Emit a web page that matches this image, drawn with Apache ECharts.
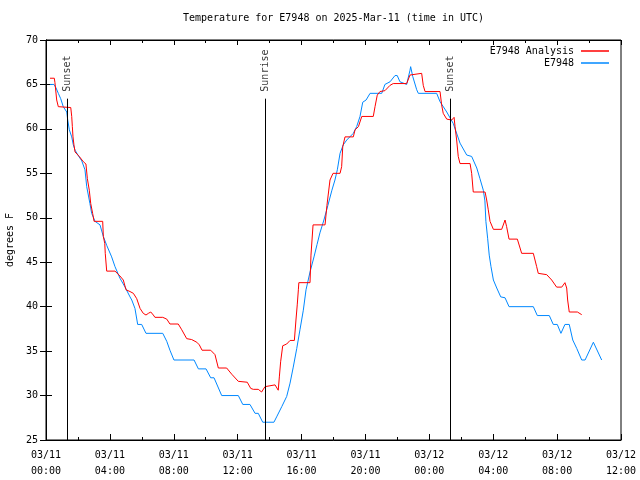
<!DOCTYPE html>
<html>
<head>
<meta charset="utf-8">
<script src="https://cdn.jsdelivr.net/npm/echarts@6/dist/echarts.min.js"></script>
<style>html,body{margin:0;padding:0;background:#fff}#c{width:640px;height:480px}</style>
</head>
<body>
<div id="c"></div>
<script>
// hours since 2025-03-11 00:00 UTC
var analysisHours = [0.25,0.52,0.56,0.67,0.77,1.55,1.61,1.65,1.69,1.75,1.82,2.08,2.34,2.50,2.59,2.71,2.80,2.92,3.01,3.55,3.59,3.68,3.71,3.80,4.32,4.63,4.84,5.01,5.26,5.47,5.68,5.89,6.09,6.26,6.41,6.56,6.72,6.82,7.31,7.56,7.76,8.28,8.50,8.81,9.12,9.44,9.60,9.77,10.31,10.58,10.79,11.31,11.63,12.04,12.60,12.82,12.98,13.29,13.50,13.61,13.71,13.77,14.34,14.54,14.61,14.69,14.82,15.07,15.28,15.55,15.65,15.73,15.80,15.83,16.53,16.59,16.72,17.47,17.59,17.78,17.97,18.41,18.51,18.58,18.72,19.03,19.24,19.35,19.56,19.77,20.49,20.60,20.74,20.91,21.22,21.54,21.74,22.58,22.79,22.90,23.52,23.62,23.73,24.67,24.77,24.87,25.09,25.40,25.55,25.61,25.71,25.81,25.92,26.55,26.65,26.75,27.49,27.59,27.69,27.80,28.01,28.53,28.74,28.84,28.99,29.51,29.68,29.78,30.51,30.72,30.82,31.35,31.66,31.97,32.29,32.49,32.60,32.66,32.70,32.76,33.27,33.39,33.54];
var analysisTemps = [65.7,65.7,65.2,63.25,62.5,62.4,61.4,60.25,59.1,58.2,57.4,56.9,56.3,56.05,54.4,53.1,51.6,50.5,49.6,49.6,47.9,47.1,46.0,44.0,44.0,43.45,43.0,41.9,41.7,41.5,40.9,39.8,39.25,39.06,39.25,39.4,39.06,38.8,38.8,38.6,38.05,38.05,37.4,36.4,36.3,36.0,35.7,35.1,35.1,34.6,33.1,33.1,32.4,31.6,31.5,30.8,30.7,30.7,30.4,30.4,31.0,31.2,31.2,30.6,32.1,33.8,35.6,35.8,36.2,36.2,38.5,40.2,41.9,42.7,42.7,45.8,49.2,49.2,51.4,54.25,55.0,55.0,55.75,58.0,59.1,59.1,59.1,59.9,60.25,61.4,61.4,62.5,63.8,64.2,64.3,64.9,65.1,65.1,66.06,66.25,66.25,64.9,64.2,64.2,62.7,61.75,61.1,61.0,61.3,60.25,58.75,56.9,56.1,56.1,55.0,52.9,52.9,52.0,50.9,49.6,48.7,48.7,49.75,49.0,47.6,47.6,46.6,46.0,46.0,44.5,43.75,43.6,43.0,42.2,42.2,42.7,42.1,40.75,40.6,39.4,39.4,39.25,39.1];

var obsHours = [0.25,0.50,0.63,0.77,0.92,1.08,1.30,1.36,1.46,1.61,1.71,1.82,2.02,2.24,2.44,2.55,2.75,2.86,3.07,3.38,3.59,3.80,4.11,4.32,4.63,4.95,5.26,5.37,5.57,5.74,5.99,6.26,7.31,7.56,7.76,8.01,9.27,9.54,10.02,10.31,10.52,11.00,12.04,12.32,12.77,13.09,13.29,13.57,14.27,14.44,14.76,15.07,15.28,15.48,15.70,15.90,16.11,16.28,16.53,16.78,16.97,17.15,17.40,17.65,17.90,18.09,18.24,18.41,18.61,18.83,19.24,19.45,19.66,19.83,20.04,20.29,21.02,21.22,21.54,21.85,21.99,22.16,22.58,22.79,22.83,22.96,23.21,23.31,24.46,24.67,25.09,25.50,25.92,26.34,26.65,26.97,27.17,27.38,27.48,27.54,27.65,27.75,27.86,28.01,28.22,28.47,28.74,28.99,30.51,30.76,31.51,31.76,32.01,32.24,32.49,32.76,32.98,33.23,33.54,33.75,34.27,34.79];
var obsTemps = [65,65,64.6,64.0,63.4,62.5,61.9,61.0,59.9,59.1,58.2,57.6,57.0,56.4,55.4,53.5,51.6,50.5,49.6,49.2,47.9,46.9,45.6,44.5,43.2,42.2,41.1,40.75,39.8,38,38,37,37,36.1,35.1,34,34,33,33,32,32,30,30,29,29,28,28,27,27,27.6,28.75,29.9,31.4,33.2,35.3,37.4,39.6,41.9,43.9,45.6,47,48.3,49.75,51.4,53.1,54.25,55.4,57.25,58.2,58.75,59.5,60.25,61.4,63,63.25,64,64,65,65.3,66,66,65.3,65,66.6,67,65.9,64.4,64,64,63.06,61.9,60.6,58.4,57.06,56.9,55.6,54.4,53.1,51.9,49.6,47.7,45.8,44.5,43.0,42.1,41.1,41,40,40,39,39,38,38,37,38,38,36.25,35.3,34,34,36,34];

var markerNames = ['Sunset','Sunrise','Sunset'];
var markerHours = [1.33, 13.73, 25.29];
var markerTop = 63.4;

var titleText = 'Temperature for E7948 on 2025-Mar-11 (time in UTC)';
var seriesNames = ['E7948 Analysis', 'E7948'];
var yName = 'degrees F';

function zip(a, b) { return a.map(function (v, i) { return [v, b[i]]; }); }
var FONT = 'DejaVu Sans Mono';
var FS = 10;

function xLabel(v) {
  var day = v < 24 ? '03/11' : '03/12';
  var h = Math.round(v % 24);
  return day + '\n' + (h < 10 ? '0' + h : '' + h) + ':00';
}

var chart = echarts.init(document.getElementById('c'), null, {renderer: 'canvas'});
chart.setOption({
  animation: false,
  backgroundColor: '#ffffff',
  textStyle: {fontFamily: FONT, fontSize: FS, color: '#000'},
  title: {
    text: titleText, left: 183, top: 13, padding: 0,
    textStyle: {fontFamily: FONT, fontSize: FS, fontWeight: 'normal', color: '#000'}
  },
  legend: [
    {data: [seriesNames[0]], right: 31, top: 46, orient: 'vertical', align: 'right', padding: 0,
     itemWidth: 28, itemHeight: 1.5, icon: 'rect', itemGap: 0,
     textStyle: {fontFamily: FONT, fontSize: FS, color: '#000', padding: [0, 2, 0, 0]}},
    {data: [seriesNames[1]], right: 31, top: 58, orient: 'vertical', align: 'right', padding: 0,
     itemWidth: 28, itemHeight: 1.5, icon: 'rect', itemGap: 0,
     textStyle: {fontFamily: FONT, fontSize: FS, color: '#000', padding: [0, 2, 0, 0]}}
  ],
  grid: {left: 46, right: 19, top: 40, bottom: 40, containLabel: false, outerBoundsMode: 'none',
         show: true, borderColor: '#000', borderWidth: 1, backgroundColor: 'transparent'},
  xAxis: [{
    type: 'value', min: 0, max: 36, interval: 4, position: 'bottom',
    axisLine: {show: true, lineStyle: {color: '#000', width: 1}},
    axisTick: {show: true, inside: true, length: 6, lineStyle: {color: '#000'}},
    minorTick: {show: true, splitNumber: 2, length: 3, lineStyle: {color: '#000'}},
    splitLine: {show: false}, minorSplitLine: {show: false},
    axisLabel: {formatter: xLabel, fontFamily: FONT, fontSize: FS, color: '#000', margin: 7, lineHeight: 16}
  }, {
    type: 'value', min: 0, max: 36, interval: 4, position: 'top',
    axisLine: {show: true, lineStyle: {color: '#000', width: 1}},
    axisTick: {show: true, inside: true, length: 5, lineStyle: {color: '#000'}},
    minorTick: {show: true, splitNumber: 2, length: 3, lineStyle: {color: '#000'}},
    splitLine: {show: false}, axisLabel: {show: false}
  }],
  yAxis: [{
    type: 'value', min: 25, max: 70, interval: 5, position: 'left',
    name: yName, nameLocation: 'middle', nameGap: 30, nameRotate: 90,
    nameTextStyle: {fontFamily: FONT, fontSize: FS, color: '#000'},
    axisLine: {show: true, lineStyle: {color: '#000', width: 1}},
    axisTick: {show: true, inside: true, length: 6, lineStyle: {color: '#000'}},
    splitLine: {show: false},
    axisLabel: {fontFamily: FONT, fontSize: FS, color: '#000', margin: 8}
  }, {
    type: 'value', min: 25, max: 70, interval: 5, position: 'right',
    axisLine: {show: true, lineStyle: {color: '#000', width: 1}},
    axisTick: {show: true, inside: true, length: 6, lineStyle: {color: '#000'}},
    splitLine: {show: false}, axisLabel: {show: false}
  }],
  series: [{
    name: seriesNames[0], type: 'line', data: zip(analysisHours, analysisTemps),
    symbol: 'none', color: '#ff0000', lineStyle: {width: 1, color: '#ff0000'}, z: 3,
    markLine: {
      silent: true, symbol: 'none', animation: false,
      lineStyle: {color: '#000', type: 'solid', width: 1},
      label: {show: false},
      data: markerHours.map(function (h) { return [{coord: [h, 25]}, {coord: [h, markerTop]}]; })
    }
  }, {
    name: seriesNames[1], type: 'line', data: zip(obsHours, obsTemps),
    symbol: 'none', color: '#0088ff', lineStyle: {width: 1, color: '#0088ff'}, z: 2
  }, {
    name: 'markers', type: 'scatter', symbolSize: 0, silent: true,
    data: markerHours.map(function (h, i) { return {name: markerNames[i], value: [h, markerTop]}; }),
    label: {show: true, formatter: '{b}', position: 'top', distance: 7, rotate: 90,
            align: 'left', verticalAlign: 'middle', fontFamily: FONT, fontSize: FS, color: '#000'}
  }]
});
</script>
</body>
</html>
